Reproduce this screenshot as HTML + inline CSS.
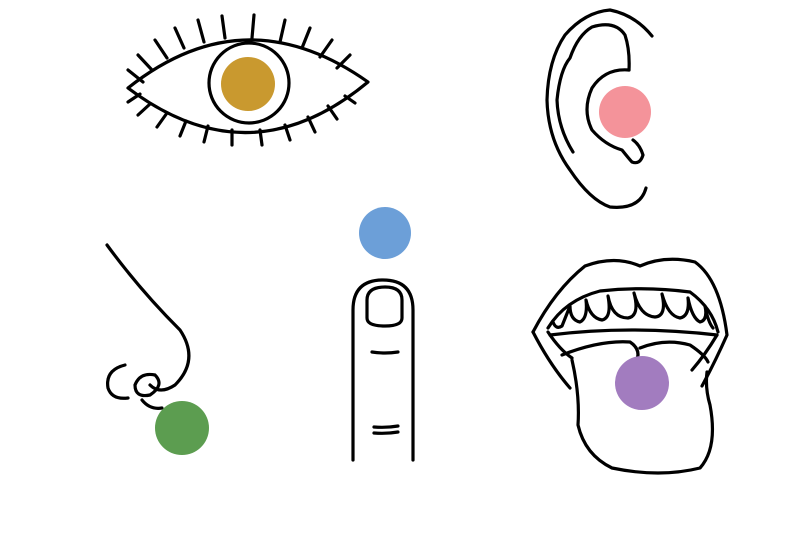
<!DOCTYPE html>
<html><head><style>html,body{margin:0;padding:0;background:#fff}svg{display:block}</style></head>
<body>
<svg width="804" height="533" viewBox="0 0 804 533" xmlns="http://www.w3.org/2000/svg">
<g fill="none" stroke="#000" stroke-width="3.2" stroke-linecap="round" stroke-linejoin="round">
<!-- Eye -->
<path d="M128,88 Q245,-5 368,82 Q250,180 128,88 Z"/>
<circle cx="249" cy="83" r="40"/>
<path d="M128,70 L143,82 M138,55 L152,70 M155,40 L167,58 M175,28 L184,48 M198,20 L204,42 M222,16 L225,38 M254,15 L252,38 M285,20 L280,42 M310,28 L302,48 M332,40 L320,57 M350,55 L337,68"/>
<path d="M128,102 L140,94 M138,115 L150,104 M157,127 L167,113 M180,136 L186,121 M204,142 L208,126 M232,145 L232,130 M262,145 L260,130 M290,140 L285,125 M315,132 L308,117 M337,119 L328,106 M355,103 L345,96"/>
<!-- Ear -->
<path d="M652,36 Q635,15 610,10 Q585,12 565,35 Q548,60 547,100 Q548,140 570,170 Q590,200 610,207 Q640,210 646,188"/>
<path d="M573,152 Q558,128 557,100 Q560,70 570,58 Q578,35 592,27 Q615,20 625,35 Q630,50 629,70"/>
<path d="M629,70 Q605,68 592,88 Q582,110 592,130 Q605,145 622,150 Q630,160 632,162 Q640,165 643,155 Q640,145 633,140"/>
<!-- Nose -->
<path d="M107,245 Q140,290 180,330 Q200,360 175,385 Q160,395 150,385"/>
<path d="M125,365 Q105,370 108,388 Q112,400 128,398"/>
<path d="M135,385 Q140,372 155,375 Q165,385 150,395 Q135,398 135,385"/>
<path d="M142,400 Q150,410 162,408"/>
<!-- Finger -->
<path d="M353,460 L353,310 Q353,280 383,280 Q413,280 413,310 L413,460"/>
<path d="M367,318 L367,300 Q367,287 385,287 Q402,287 402,300 L402,318 Q402,326 385,326 Q367,326 367,318 Z"/>
<path d="M372,352 Q385,354 398,352 M374,427 Q386,428 398,426 M374,433 Q386,434 398,432"/>
<!-- Mouth -->
<path d="M533,332 Q555,290 585,266 Q615,255 640,266 Q665,255 695,262 Q720,280 727,335 Q715,362 702,386"/>
<path d="M533,332 Q550,365 570,388"/>
<path d="M548,328 Q565,300 600,291 Q645,286 690,292 Q712,308 718,332"/>
<path d="M548,332 Q560,350 572,358 M717,335 Q705,355 692,370"/>
<path d="M553,322 Q556,330 562,326 Q566,316 570,306 Q570,320 580,322 Q588,318 586,300 Q590,318 602,320 Q612,318 608,296 Q612,318 628,318 Q640,316 634,293 Q640,316 655,317 Q667,316 662,294 Q668,316 680,318 Q690,316 688,298 Q692,318 700,322 Q708,320 705,306 Q708,322 713,328"/>
<path d="M550,335 Q630,325 717,335"/>
<path d="M562,355 Q600,340 630,342 Q642,350 636,362 M640,348 Q665,338 690,345 Q705,355 708,362"/>
<path d="M572,360 Q580,395 578,425 Q585,455 612,468 Q660,478 700,468 Q718,448 710,405 Q705,388 707,372"/>
</g>
<circle cx="248" cy="84" r="27" fill="#c9992f"/>
<circle cx="625" cy="112" r="26" fill="#f4939a"/>
<circle cx="182" cy="428" r="27" fill="#5c9d50"/>
<circle cx="385" cy="233" r="26" fill="#6c9fd8"/>
<circle cx="642" cy="383" r="27" fill="#a27cbf"/>
</svg>
</body></html>
